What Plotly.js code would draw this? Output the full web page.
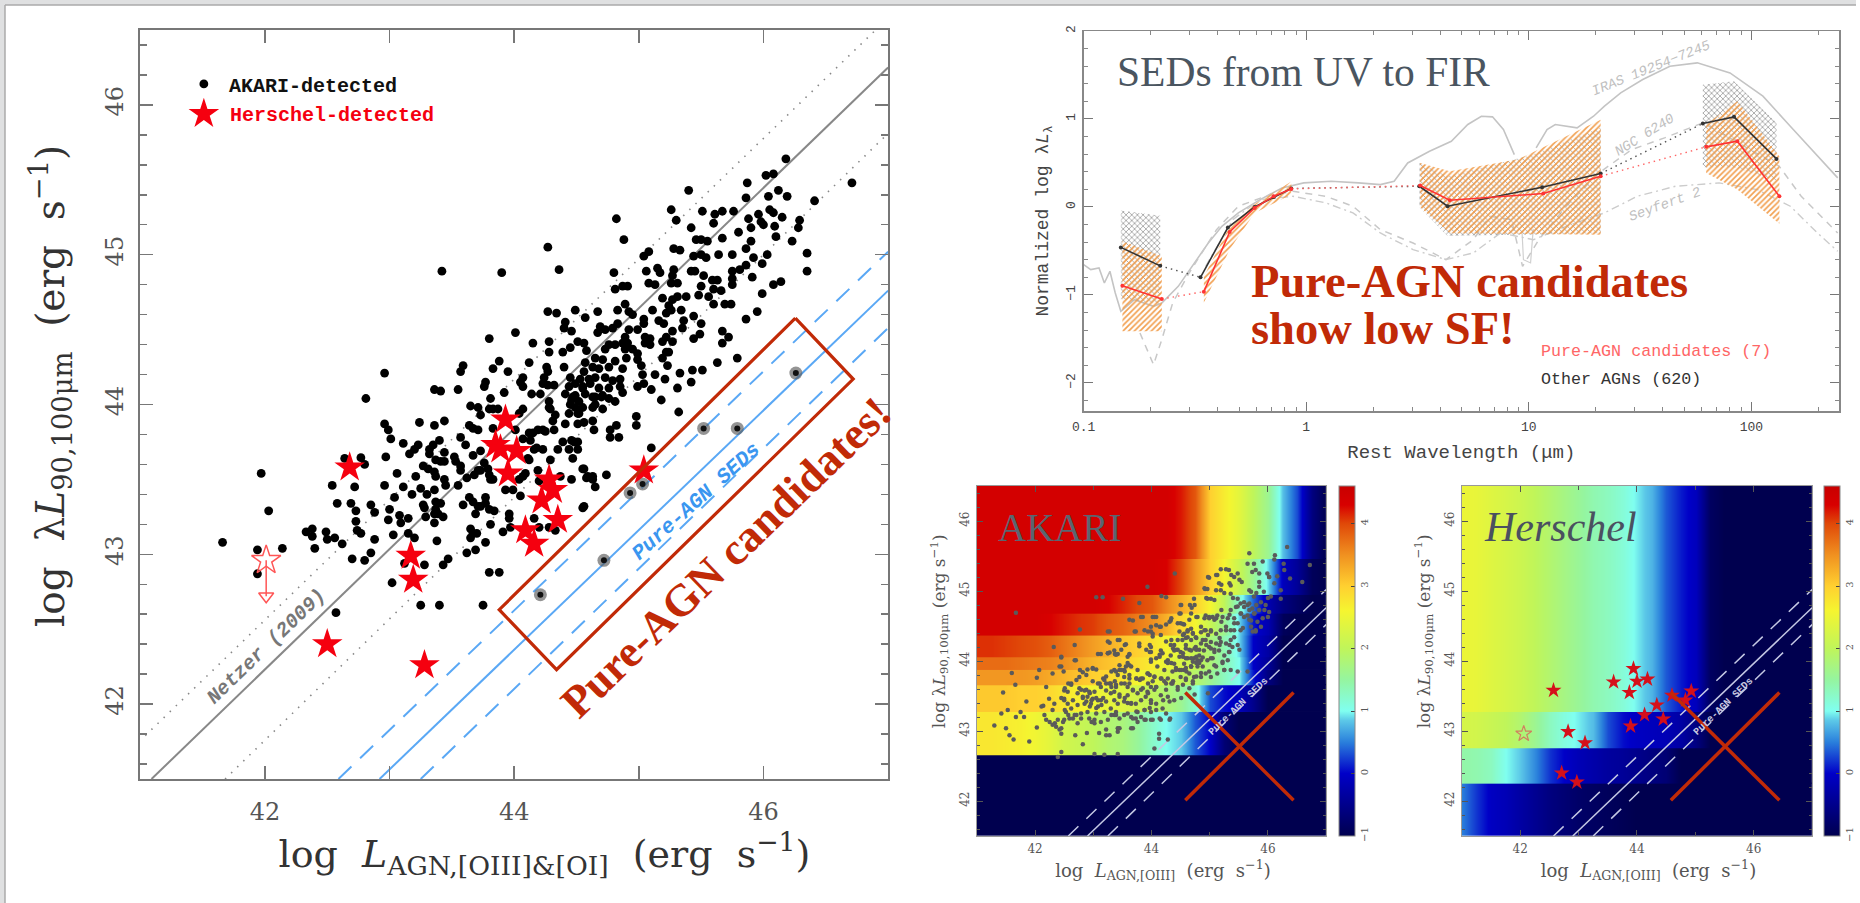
<!DOCTYPE html>
<html><head><meta charset="utf-8">
<script src="https://cdn.plot.ly/plotly-3.0.1.min.js"></script>
<style>html,body{margin:0;padding:0;background:#fff;overflow:hidden}</style>
</head><body><div id="chart" style="width:1860px;height:903px"></div>
<script>
// ---------- main panel: log L_AGN vs log lambda L ----------
const akariDetected = [
[46.18,45.64],[46.02,45.53],[46.08,45.54],[45.87,45.48],[45.40,45.43],[46.12,45.43],[45.86,45.38],[46.04,45.39],[46.19,45.39],[46.71,45.48],[46.41,45.36],
[45.26,45.30],[45.51,45.29],[45.61,45.27],[45.67,45.29],[45.76,45.29],[45.30,45.23],[45.60,45.21],[45.88,45.24],[45.96,45.27],[45.98,45.22],[46.0,45.20],
[46.05,45.30],[46.08,45.28],[46.15,45.25],[46.29,45.23],[46.28,45.18],[45.90,45.18],[46.09,45.19],[45.42,45.18],[44.82,45.24],[45.80,45.15],[45.67,45.11],
[45.90,45.09],[46.10,45.12],[46.23,45.09],[44.88,45.10],[45.46,45.10],[45.50,45.10],[45.55,45.09],[44.27,45.05],[45.08,45.02],[45.04,44.99],[45.28,45.04],
[45.33,45.03],[45.44,44.99],[45.50,45.0],[45.54,44.98],[45.64,45.0],[45.75,45.0],[45.86,45.04],[45.92,44.98],[46.03,45.0],[45.99,44.94],[46.35,45.01],[46.35,44.89],
[43.42,44.89],[43.90,44.88],[44.36,44.90],[44.80,44.88],[45.06,44.89],[45.15,44.91],[45.17,44.88],[45.28,44.90],[45.27,44.86],[45.42,44.89],[45.45,44.89],
[45.52,44.86],[45.59,44.83],[45.63,44.83],[45.75,44.89],[45.81,44.90],[45.75,44.84],[45.75,44.80],[45.86,44.93],[45.91,44.85],[46.08,44.80],[46.14,44.82],[45.99,44.74],
[45.08,44.81],[45.13,44.80],[45.26,44.81],[45.31,44.81],[44.81,44.77],[44.87,44.79],[44.91,44.79],[45.50,44.79],[45.48,44.73],[45.60,44.77],[45.66,44.76],[45.19,44.71],
[45.27,44.70],[45.31,44.72],[45.38,44.72],[45.24,44.66],[45.56,44.72],[45.60,44.67],[45.69,44.67],[45.74,44.67],[45.86,44.57],[45.95,44.62],[44.27,44.62],[44.34,44.61],
[44.49,44.63],[44.57,44.58],[44.67,44.62],[44.83,44.63],[44.89,44.67],[44.92,44.62],[44.95,44.60],[45.11,44.63],[45.22,44.61],[45.26,44.63],[45.34,44.63],[45.44,44.59],
[45.04,44.57],[45.04,44.54],[45.16,44.56],[45.20,44.54],[45.36,44.56],[45.35,44.51],[45.50,44.54],[44.41,44.55],[44.40,44.51],[44.46,44.49],[44.69,44.52],[44.73,44.50],
[44.79,44.51],[44.83,44.54],[44.92,44.50],[44.99,44.50],[45.27,44.49],[45.22,44.45],[45.19,44.42],[44.01,44.48],[43.80,44.44],[44.15,44.41],[44.28,44.42],[44.28,44.35],
[44.51,44.42],[44.56,44.41],[44.58,44.36],[44.67,44.48],[44.89,44.45],[44.87,44.41],[44.91,44.41],[44.81,44.40],[44.76,44.40],[44.89,44.37],[44.95,44.37],[45.05,44.45],
[45.09,44.44],[45.05,44.41],[45.09,44.40],[45.44,44.44],[45.49,44.47],[45.67,44.49],[45.72,44.45],[45.67,44.41],[45.27,44.42],[45.22,44.35],[45.24,44.35],[45.79,44.31],
[45.63,44.28],[44.45,44.38],[44.39,44.35],[44.73,44.37],[44.99,44.34],[44.99,44.30],[45.02,44.26],[45.19,44.31],[43.88,44.29],[44.12,44.28],[43.83,44.24],[43.95,44.22],
[43.59,44.26],[43.57,44.22],[44.26,44.25],[44.27,44.22],[44.40,44.25],[44.57,44.28],[44.65,44.31],[44.71,44.30],[44.63,44.25],[44.56,44.22],[44.68,44.24],[44.76,44.25],
[44.81,44.29],[44.90,44.31],[44.87,44.24],[45.23,44.26],[45.43,44.23],[45.51,44.23],[45.33,44.21],[45.13,44.20],[45.03,44.20],[44.53,44.17],[44.60,44.17],[44.65,44.18],
[44.73,44.18],[44.79,44.16],[44.85,44.17],[44.45,44.18],[44.49,44.14],[44.44,44.12],[44.55,44.12],[44.61,44.14],[44.68,44.11],[44.76,44.11],[44.85,44.12],[44.87,44.08],
[44.24,44.18],[44.23,44.14],[44.27,44.13],[44.32,44.13],[44.07,44.18],[44.07,44.12],[44.05,44.15],[43.77,44.15],[43.76,44.12],[45.21,44.17],[45.42,44.15],[44.99,44.12],
[45.04,44.14],[45.10,44.10],[45.31,44.11],[43.36,44.10],[43.41,44.09],[43.55,44.10],[43.92,44.08],[44.14,44.07],[44.21,44.07],[45.18,44.03],[44.81,44.02],[44.57,44.07],
[44.65,44.05],[44.71,44.06],[44.76,44.04],[44.41,44.07],[44.49,44.06],[44.52,44.02],[44.45,44.0],[44.55,43.98],[43.81,44.04],[44.28,44.02],[44.28,43.98],[43.65,43.99],
[43.71,43.98],[42.96,44.21],[44.07,43.97],[44.65,44.0],[44.71,43.97],[43.83,43.97],[43.87,43.97],[42.81,44.04],[43.73,43.93],[44.04,43.94],[44.29,43.97],[44.33,43.93],
[44.31,43.89],[44.47,44.05],[44.49,43.98],[44.44,43.94],[44.52,43.94],[44.56,43.88],[44.64,43.83],[44.39,43.75],[44.48,43.75],[44.63,43.89],[44.12,43.81],[44.19,43.83],
[44.25,43.82],[44.07,43.77],[44.16,43.70],[44.23,43.70],[44.35,43.70],[44.44,43.70],[44.51,43.70],[44.29,43.63],[44.47,43.64],[44.11,43.64],[44.12,43.63],[44.56,43.57],
[44.59,43.52],[44.63,43.52],[44.65,43.45],[44.56,43.32],[44.46,43.50],[44.37,43.52],[44.19,43.56],[44.20,43.49],[44.07,43.52],[44.04,43.50],[43.93,43.43],[43.99,43.43],
[44.05,43.39],[44.16,43.24],[44.20,43.18],[44.28,43.18],[44.33,43.16],[44.09,43.54],[43.81,43.50],[43.83,43.84],[44.01,43.83],[43.80,43.97],[43.73,43.69],[43.67,43.66],
[43.79,43.57],[43.80,43.53],[43.83,43.50],[43.73,43.56],[43.76,43.61],[43.71,43.56],[43.62,43.51],[43.68,43.53],[43.64,43.86],[43.67,43.84],[43.71,43.83],[43.57,43.78],
[43.61,43.73],[43.52,43.65],[43.53,43.62],[43.57,43.59],[43.57,43.56],[43.44,43.68],[43.44,43.62],[43.36,43.86],[43.24,43.88],[43.44,43.89],[42.96,43.87],[42.99,43.83],
[43.01,43.77],[43.11,43.74],[43.23,43.73],[43.20,43.70],[43.16,43.67],[43.32,43.70],[43.35,43.73],[43.40,43.76],[43.32,43.67],[43.37,43.63],[43.27,43.59],[43.31,43.57],
[43.36,43.55],[43.37,43.52],[43.41,43.62],[41.66,43.08],[41.97,43.54],[42.03,43.29],[41.94,43.03],[41.94,42.87],[42.14,43.04],[42.33,43.15],[42.38,43.17],[42.38,43.12],
[42.40,43.04],[42.49,43.15],[42.50,43.10],[42.56,43.11],[42.62,43.07],[42.54,43.46],[42.58,43.34],[42.69,43.34],[42.73,43.29],[42.73,43.22],[42.74,43.16],[42.77,43.14],
[42.72,43.45],[42.64,43.64],[42.77,43.645],[42.80,43.60],[42.97,43.65],[42.96,43.46],[43.06,43.54],[43.11,43.45],[43.18,43.40],[43.04,43.38],[43.21,43.52],[43.25,43.44],
[43.30,43.40],[43.36,43.43],[43.27,43.33],[43.28,43.31],[42.85,43.33],[42.88,43.28],[43.00,43.30],[43.08,43.26],[43.15,43.24],[42.99,43.23],[43.09,43.21],[43.29,43.25],
[43.36,43.21],[43.37,43.35],[43.41,43.34],[43.37,43.30],[43.39,43.27],[43.36,43.27],[43.43,43.25],[42.88,43.10],[42.85,43.01],[42.80,42.96],[42.70,42.97],[43.03,43.13],
[43.15,43.14],[43.20,43.11],[43.38,43.09],[43.28,42.93],[43.12,42.94],[43.02,42.81],[43.43,42.93],[43.47,42.97],[43.62,43.01],[43.69,43.03],[43.77,43.08],[43.80,42.88],
[43.88,42.88],[43.25,42.66],[43.40,42.66],[43.75,42.66],[42.57,42.61],[43.91,43.15],[43.97,43.18],[43.65,43.17],[43.67,43.14],[43.70,43.14],[43.65,43.11],[43.81,43.20],
[43.96,43.27],[43.96,43.24],[43.69,43.27],[43.59,43.33],[43.64,43.38],[43.67,43.35],[43.71,43.32],[43.73,43.32],[43.77,43.38],[43.77,43.34],[43.80,43.30],[43.84,43.29],
[43.55,43.46],[43.44,43.50],[43.45,43.46],[45.32,43.95],[45.10,43.71],[44.74,43.53],[44.55,43.57],[44.58,43.51],[44.63,43.50],[44.55,43.31],[44.98,43.92],[44.98,43.86],
[44.77,43.83],[44.82,43.86],[44.77,43.78],[44.84,43.78],[44.46,43.76],[44.51,43.75],[44.32,43.83],[44.41,43.87],[44.51,43.87],[44.15,43.81],[44.23,43.83],[44.13,43.76],
[44.18,43.71],[44.63,43.98],[44.70,44.05],[44.63,44.05],[44.51,43.94],[44.46,44.03],[44.55,44.11]];
const pureAgn = [[46.26,44.21],[45.52,43.84],[45.79,43.84],[44.93,43.41],[45.03,43.47],[44.72,42.96],[44.21,42.73]];
const herschelDetected = [[42.68,43.58],[43.93,43.90],[43.85,43.73],[43.89,43.70],[44.02,43.69],[43.95,43.54],[44.28,43.50],[44.31,43.43],[44.22,43.36],[44.35,43.23],
[44.09,43.16],[44.16,43.07],[43.17,42.99],[43.19,42.83],[42.50,42.40],[43.28,42.26],[45.04,43.56]];
const upperLimitStar = [[42.01,42.96]];
const upperLimitArrow = [[42.01,42.96],[42.01,42.72]];
const legendDot = [[41.51,46.14]];
const legendStar = [[41.51,45.94]];
const netzerLine = [[41.09,41.5],[47,46.25]];
const netzerUpper = [[41.04,41.79],[46.9,46.5]];
const netzerLower = [[41.68,41.5],[47,45.81]];
const pureLine = [[42.92,41.5],[47,44.76]];
const pureUpper = [[42.59,41.5],[47,45.02]];
const pureLower = [[43.25,41.5],[47,44.51]];
const candidateBox = [[46.256,44.576],[46.72,44.17],[44.34,42.23],[43.88,42.63],[46.256,44.576]];
const xMainTicks = [41,42,43,44,45,46,47];
const xMainLabels = ['','42','','44','','46',''];
const yMainTicks = [42,43,44,45,46];

// ---------- SED panel: [log10 wavelength(um), normalized log L] ----------
const sedIrasUvMir = [[-1,-.656],[-.968,-.713],[-.931,-.694],[-.907,-.865],[-.882,-.732],[-.858,-.978],[-.833,-1.187],[-.772,-1.054],[-.686,-1.13],[-.649,-1.092],[-.575,-.903],[-.502,-.637],[-.44,-.41],[-.379,-.22],[-.305,-.068],[-.207,.083],[-.109,.216],[-.011,.273],[.112,.292],[.235,.273],[.333,.254],[.395,.292],[.456,.5],[.554,.633],[.652,.747],[.726,.937],[.787,1.031],[.837,1.024],[.886,.88],[.935,.595]];
const sedIrasDip = [[.97,-.3],[.976,-.6],[1.008,-.637],[1.02,-.25]];
const sedIrasFir = [[1.033,.671],[1.082,.88],[1.119,.937],[1.217,.899],[1.291,1.031],[1.34,1.145],[1.413,1.297],[1.512,1.449],[1.634,1.6],[1.757,1.638],[1.904,1.524],[2.052,1.259],[2.175,.918],[2.297,.576],[2.388,.33]];
const sedNgc = [[-.747,-1.433],[-.686,-1.794],[-.649,-1.509],[-.6,-1.092],[-.526,-.751],[-.403,-.258],[-.305,.008],[-.182,.121],[-.06,.178],[.088,.121],[.21,.008],[.333,-.258],[.48,-.41],[.628,-.599],[.751,-.372],[.824,-.106],[.922,-.144],[.972,-.675],[1.045,-.372],[1.168,.008],[1.315,.387],[1.463,.652],[1.61,.785],[1.782,.956],[1.929,.747],[2.125,.463],[2.224,.121],[2.388,-.296]];
const sedSeyfert = [[-.452,-.675],[-.33,-.144],[-.207,.083],[-.06,.121],[.088,.046],[.21,-.068],[.333,-.296],[.48,-.485],[.628,-.599],[.751,-.523],[.873,-.296],[1.021,-.372],[1.168,-.22],[1.34,-.068],[1.487,.121],[1.659,.235],[1.855,.273],[2.027,.197],[2.175,.008],[2.297,-.296],[2.388,-.504]];
const otherUv = [[-.833,-.46],[-.656,-.67]];
const otherOpt = [[-.475,-.80],[-.352,-.235],[-.232,0],[-.146,.114],[-.067,.21]];
const otherMir = [[.508,.235],[.635,.0075],[1.06,.224],[1.323,.38]];
const otherFir = [[1.782,.948],[1.922,1.024],[2.113,.546]];
const pureUv = [[-.826,-.895],[-.649,-1.047]];
const pureOpt = [[-.46,-.963],[-.344,-.284],[-.232,-.011],[-.146,.121],[-.067,.205]];
const pureMir = [[.512,.243],[.645,.076],[1.065,.152],[1.323,.349]];
const pureFir = [[1.797,.683],[1.937,.747],[2.126,.121]];
const grayBandUv = [[-.833,-.04],[-.656,-.1],[-.656,-1.1],[-.833,-1.05],[-.833,-.04]];
const grayBandMir = [[.508,.5],[.635,.35],[1.0,.58],[1.323,.9],[1.323,-.3],[.635,-.33],[.508,.0],[.508,.5]];
const grayBandFir = [[1.782,1.39],[1.922,1.43],[2.113,.956],[2.113,.3],[1.922,.45],[1.782,.45],[1.782,1.39]];
const orangeBandUv = [[-.826,-.39],[-.649,-.56],[-.649,-1.414],[-.826,-1.414],[-.826,-.39]];
const orangeBandOpt = [[-.46,-.79],[-.344,-.22],[-.232,.03],[-.067,.29],[-.067,.14],[-.232,-.07],[-.344,-.485],[-.46,-1.09],[-.46,-.79]];
const orangeBandMir = [[.512,.50],[.645,.405],[.95,.54],[1.323,.99],[1.323,-.315],[.645,-.3],[.512,0],[.512,.50]];
const orangeBandFir = [[1.797,.937],[1.937,1.20],[2.126,.576],[2.126,-.19],[1.937,.197],[1.797,.387],[1.797,.937]];
const sedXTicks = [0.1,1,10,100];
const sedYTicks = [-2,-1,0,1,2];

// ---------- lower panels ----------
const lumNodes = [41,41.25,41.5,41.75,42,42.25,42.5,42.75,43,43.25,43.5,43.75,44,44.25,44.5,44.75,45,45.25,45.5,45.75,46,46.25,46.5,46.75,47];
// horizontal band edges and the colour value at each luminosity node, one row per band
const akariBandEdges = [41.5,42.65,43.27,43.66,43.87,44.06,44.37,44.68,44.95,45.46,46.5];
const akariBands = [
[-1,-1,-1,-1,-1,-1,-1,-1,-1,-1,-1,-1,-1,-1,-1,-1,-1,-1,-1,-1,-1,-1,-1,-1,-1],
[2.75,2.75,2.7,2.65,2.55,2.4,2.2,2.1,2.0,1.85,1.75,1.55,1.25,1.0,.85,.35,0,-.7,-1,-1,-1,-1,-1,-1,-1],
[3.05,3.05,3.05,3.0,3.0,2.9,2.75,2.65,2.55,2.45,2.35,2.2,2.0,1.85,1.6,1.2,.3,.05,-.1,-.5,-1,-1,-1,-1,-1],
[3.45,3.45,3.45,3.45,3.4,3.3,3.2,3.1,3.0,2.9,2.75,2.6,2.45,2.25,2.05,1.9,1.6,1.3,1.0,.1,-.6,-1,-1,-1,-1],
[3.75,3.75,3.75,3.7,3.65,3.6,3.5,3.35,3.2,3.1,3.0,2.85,2.7,2.5,2.3,2.1,1.8,1.4,1.0,0,-.4,-1,-1,-1,-1],
[4.1,4.1,4.05,4.0,3.95,3.85,3.7,3.55,3.4,3.25,3.1,3.0,2.8,2.6,2.4,2.1,1.8,1.4,.9,0,-.3,-1,-1,-1,-1],
[4.4,4.4,4.4,4.4,4.4,4.3,4.2,4.1,4.05,3.9,3.8,3.65,3.5,3.25,2.9,2.6,2.1,1.6,.9,.1,-.2,-.9,-1,-1,-1],
[4.4,4.4,4.4,4.4,4.4,4.4,4.4,4.4,4.4,4.3,4.15,4.0,3.9,3.6,3.3,3.0,2.6,2.0,1.2,.4,-.2,-.6,-.8,-1,-1],
[4.4,4.4,4.4,4.4,4.4,4.4,4.4,4.4,4.4,4.4,4.4,4.4,4.4,4.3,4.0,3.5,3.0,2.6,2.1,1.6,.9,-.1,-.4,-.9,-1],
[4.4,4.4,4.4,4.4,4.4,4.4,4.4,4.4,4.4,4.4,4.4,4.4,4.4,4.4,4.2,3.9,3.0,2.7,2.4,2.0,1.6,.8,.3,-.6,-1]];
const herschelBandEdges = [41.5,42.25,42.75,43.27,46.5];
const herschelBands = [
[.5,.2,-.05,-.15,-.3,-.45,-.6,-.7,-.8,-.85,-.9,-.95,-1,-1,-1,-1,-1,-1,-1,-1,-1,-1,-1,-1,-1],
[1.45,1.4,1.3,1.0,.85,.55,.2,0,-.15,-.25,-.35,-.4,-.5,-.6,-.7,-1,-1,-1,-1,-1,-1,-1,-1,-1,-1],
[2.25,2.2,2.1,2.0,1.85,1.6,1.3,1.1,.95,.8,.3,.05,-.05,-.1,-.15,-.3,-.6,-1,-1,-1,-1,-1,-1,-1,-1],
[2.5,2.45,2.35,2.25,2.15,2.0,1.85,1.7,1.55,1.4,1.3,1.15,.95,.75,.35,.1,-.1,-.85,-1,-1,-1,-1,-1,-1,-1]];
const colorTickVals = [-1,0,1,2,3,4];
const akariPoints = [
[46.33,45.63],[45.68,45.54],[46.12,45.51],[46.11,45.45],[46.27,45.39],[46.72,45.37],[45.91,45.42],[45.76,45.39],[45.65,45.39],[45.79,45.30],[45.85,45.25],[45.73,45.27],
[45.99,45.25],[46.02,45.2],[46.16,45.21],[46.28,45.30],[46.38,45.18],[46.59,45.13],[45.19,45.31],[45.28,45.31],[45.33,45.30],[45.13,45.23],[45.42,45.2],[45.48,45.25],
[44.99,45.19],[45.16,45.11],[45.36,45.08],[45.55,45.13],[44.40,45.25],[41.67,44.69],[43.93,45.06],[44.17,44.93],[44.25,44.91],[43.05,44.91],[43.16,44.91],[43.51,44.89],
[43.79,44.83],[44.73,44.89],[44.96,44.89],[45.02,44.89],[44.92,45.03],[44.96,45.03],[45.19,45.01],[45.36,44.96],[45.48,44.89],[45.59,44.84],[45.65,44.80],[45.73,44.75],
[41.30,43.08],[41.42,43.25],[41.45,43.55],[41.53,43.30],[41.50,43.04],[41.56,42.94],[41.63,42.88],[41.60,43.83],[41.66,43.66],[41.67,43.20],[41.75,43.27],[41.81,43.20],
[41.85,43.42],[41.90,42.85],[42.03,43.76],[42.07,43.87],[42.03,43.05],[42.11,43.35],[42.14,43.36],[42.19,43.63],[42.16,43.23],[42.19,43.16],[42.25,43.13],[42.30,43.09],
[42.36,43.06],[42.32,44.20],[42.30,43.82],[42.45,43.92],[42.49,43.85],[42.45,44.05],[42.68,44.23],[42.77,44.45],[42.70,44.01],[42.24,43.46],[42.33,43.39],[42.30,43.30],
[42.45,43.04],[42.45,42.96],[42.45,42.70],[42.39,42.63],[42.69,42.94],[42.82,42.81],[42.89,42.97],[43.02,42.67],[43.10,42.97],[43.19,42.66],[43.22,42.94],[43.28,42.94],
[43.42,42.99],[43.45,43.04],[43.42,42.67],[43.68,43.04],[43.73,43.18],[43.76,43.13],[44.05,42.75],[44.13,42.96],[44.13,42.89],[44.28,42.88],[44.02,43.16],[43.90,43.16],
[44.16,43.16],[44.32,43.18],[42.50,43.46],[42.56,43.56],[42.62,43.68],[42.50,43.58],[42.76,43.77],[42.82,43.84],[42.90,43.88],[42.99,43.89],[43.05,43.88],[43.13,44.10],
[43.28,44.12],[43.42,44.10],[43.28,44.42],[43.28,44.26],[43.45,44.30],[43.36,44.15],[43.56,44.24],[43.59,44.06],[43.68,44.58],[43.85,44.63],[43.73,44.42],[43.88,44.44],
[44.05,44.63],[44.08,44.63],[43.99,44.49],[44.08,44.51],[44.16,44.49],[44.02,44.39],[44.16,44.37],[43.79,44.25],[43.99,44.20],[44.16,44.15],[44.33,44.58],[44.50,44.80],
[44.66,44.80],[44.69,44.76],[44.50,44.68],[44.50,44.54],[44.56,44.52],[44.68,44.68],[44.79,44.63],[44.93,44.65],[44.99,44.63],[45.05,44.63],
[42.50,43.44],[42.56,43.39],[42.65,43.44],[42.73,43.54],[42.76,43.61],[42.85,43.58],[42.93,43.56],[43.02,43.56],[42.82,43.49],[42.90,43.49],[42.99,43.46],[43.08,43.44],
[42.85,43.39],[42.96,43.39],[43.08,43.35],[42.73,43.37],[42.62,43.32],[42.53,43.27],[42.68,43.23],[42.79,43.25],[42.90,43.27],[43.05,43.25],[43.19,43.27],[43.30,43.32],
[43.39,43.27],[43.53,43.23],[43.65,43.20],[43.76,43.27],[43.88,43.30],[43.99,43.27],[44.08,43.39],[44.19,43.32],[44.39,43.44],[44.28,43.49],[44.16,43.51],[43.99,43.44],
[43.90,43.49],[43.82,43.44],[43.73,43.39],[43.65,43.39],[43.53,43.42],[43.45,43.49],[43.36,43.44],[43.30,43.54],[43.22,43.58],[43.13,43.63],[43.08,43.68],[43.19,43.73],
[43.30,43.68],[43.39,43.63],[43.48,43.68],[43.59,43.63],[43.68,43.58],[43.53,43.77],[43.62,43.75],[43.45,43.87],[43.53,43.87],[43.65,43.92],[43.76,43.87],[43.85,43.75],
[43.93,43.82],[44.05,43.77],[44.16,43.75],[44.25,43.68],[44.36,43.68],[44.45,43.63],[43.99,43.63],[44.08,43.63],[43.93,43.56],[44.22,43.87],[43.99,43.99],[44.10,43.92],
[44.19,44.11],[44.28,44.01],[44.39,43.96],[44.48,43.87],[44.56,43.96],[44.68,43.92],[44.79,44.01],[44.88,43.92],[44.99,43.85],[45.11,43.92],[45.25,43.87],[45.48,43.85],
[45.65,43.85],[42.50,43.16],[42.59,43.18],[42.73,43.11],[42.79,43.18],[42.93,43.18],[43.02,43.16],[43.13,43.13],[43.25,43.16],[43.36,43.23],[43.45,43.18],[43.59,43.25],
[43.82,43.20],[43.42,43.39],[43.22,43.42],[43.13,43.44],[43.36,43.56],[43.59,43.51],[43.76,43.54],[43.85,43.61],
[44.62,44.44],[44.68,44.46],[44.56,44.39],[44.71,44.39],[44.62,44.34],[44.53,44.30],[44.68,44.30],[44.76,44.34],[44.85,44.41],[44.93,44.44],[45.02,44.44],[45.11,44.39],
[45.19,44.44],[45.28,44.49],[45.36,44.44],[45.42,44.54],[45.31,44.61],[45.22,44.63],[45.13,44.65],[45.36,44.73],[45.45,44.77],[45.53,44.82],[45.59,44.77],[45.68,44.73],
[45.65,44.65],[45.59,44.63],[45.53,44.68],[45.42,44.61],[45.76,44.68],[45.85,44.73],[45.48,44.54],[45.53,44.44],[45.36,44.30],[45.28,44.25],[45.19,44.27],[45.11,44.25],
[45.02,44.27],[44.93,44.30],[44.85,44.25],[44.76,44.20],[44.68,44.15],[44.59,44.18],[44.50,44.13],[44.62,44.04],[44.73,44.04],[44.82,44.08],[44.90,44.15],[44.99,44.20],
[45.08,44.13],[45.16,44.15],[45.25,44.08],[45.33,44.13],[45.39,44.20],[45.48,44.23],[45.42,44.34],[44.79,43.92],[44.68,43.92],[44.56,43.87],[44.65,43.82],[44.73,43.77],
[44.85,43.77],[44.93,43.82],[45.02,43.77],[45.13,43.82],[45.22,43.99],[45.31,44.01],[45.36,43.87],[44.96,44.01],[45.05,44.04],[44.85,44.01],[44.33,44.23],[44.39,44.15],
[44.33,44.08],[44.48,44.06],[44.36,43.85],[44.50,43.77],[44.59,43.73],[45.79,44.44],[45.88,44.49],[45.71,44.49],[45.71,44.58],[45.79,44.42],[45.91,44.61],[46.02,44.70],
[45.96,44.80],[45.88,44.84],[45.76,44.92],[45.71,44.99],[45.85,45.06],[45.85,45.13],[45.93,44.99],[46.05,44.92],[46.22,44.89],[46.22,45.01],[46.11,45.11],[46.02,45.20],
[44.48,44.42],[44.54,44.37],[44.59,44.33],[44.62,44.42],[44.71,44.40],[44.59,44.23],[44.65,44.16],[44.74,44.18],[44.77,44.33],[44.85,44.49],[44.91,44.44],[44.97,44.37],
[45.02,44.42],[44.88,44.30],[44.94,44.23],[45.02,44.18],[45.08,44.16],[44.77,44.06],[44.68,44.04],[44.59,44.04],[44.54,44.11],[44.45,44.16],[44.37,44.18],[44.39,44.23],
[44.45,44.30],[44.34,44.30],[44.82,44.16],[44.88,44.05],[45.02,44.04],[44.68,43.92],[44.77,43.97],[44.59,43.90],[44.51,43.87],[44.42,43.87],[44.34,43.97],[44.25,43.99],
[44.14,44.06],[44.08,44.04],[43.99,44.02],[43.97,44.13],[44.25,44.28],[43.91,44.16],[43.79,44.21],[43.62,44.09],[43.54,44.23],[43.42,44.30],[43.25,44.28],[43.25,44.11],
[43.39,44.09],[43.48,44.16],[44.59,43.75],[44.77,43.78],[44.85,43.83],[44.71,43.68],[44.54,43.66],[44.37,43.71],[44.28,43.75],[44.17,43.75],[44.05,43.78],[43.97,43.80],
[43.62,43.68],[43.74,43.75],[43.36,43.87],[43.48,43.87],[43.56,43.92],[43.62,43.94],[43.22,43.78],[43.28,43.68],[43.39,43.66],[43.54,43.68],[43.82,43.75],[43.68,43.59],
[43.82,43.59],[43.94,43.68],[44.05,43.59],[44.25,43.59],[44.45,43.59],[44.65,43.61],[44.91,44.61],[44.99,44.61],[45.08,44.59],[45.20,44.56],[45.28,44.44],[45.42,44.44],
[45.17,44.33],[45.17,44.23],[45.34,44.23],[45.34,44.13],[45.11,44.61],[45.20,44.73],[45.34,44.66],[45.48,44.78],[45.54,44.68],[45.68,44.82],[45.80,44.80],[45.40,44.90],
[45.25,44.97],[45.11,45.01],[45.20,45.09],[45.34,45.11],[45.51,45.16],[45.68,45.01],[45.80,44.97],[46.0,44.90],[45.94,44.73],[45.77,44.68],[45.68,44.59],[45.82,44.56],
[46.0,44.63],[45.74,44.42],[45.57,44.47],[45.51,44.16],[45.22,43.97],[45.25,43.87],[45.08,43.94],[44.65,44.59],[44.77,44.63],[44.48,44.68],[44.51,44.80],[44.74,44.80],
[44.94,44.90],[45.08,44.87],[44.45,44.54],[44.54,44.53],[44.31,44.56],[44.34,44.61],[43.99,44.42],[43.94,44.42],[44.14,44.49],[44.02,44.63],[43.82,44.63],[43.62,44.59],
[43.71,44.42],[43.25,44.42],[44.02,44.35],[43.97,44.23],[44.25,44.52],[44.91,45.04],[45.11,45.23],[45.37,45.23],[44.97,45.20],
[42.34,43.11],[42.39,43.16],[42.48,43.13],[42.42,43.02],[42.65,43.18],[42.71,43.23],[42.51,43.30],[42.57,43.23],[42.45,43.47],[42.51,43.61],[42.57,43.68],[42.62,43.66],
[42.71,43.73],[42.79,43.59],[42.88,43.59],[42.94,43.54],[42.82,43.47],[42.88,43.42],[42.97,43.44],[43.05,43.47],[43.17,43.47],[42.94,43.35],[43.05,43.33],[43.14,43.37],
[42.99,43.71],[43.11,43.68],[43.17,43.75],[43.22,43.68],[43.31,43.63],[43.37,43.71],[43.42,43.80],[43.54,43.85],[43.62,43.80],[43.39,43.85],[43.31,43.85],[43.45,43.94],
[43.59,43.97],[43.74,43.75],[43.80,43.73],[44.02,43.71],[44.08,43.63],[44.22,43.71],[44.34,43.68],[44.28,43.97],[44.42,43.90],[44.60,43.85],[44.71,43.99],[44.82,43.97],
[44.71,43.71],[43.94,43.82],[43.94,43.54],[43.99,43.40],[43.88,43.30],[43.68,43.18],[43.74,43.28],[43.59,43.40],[43.45,43.52],[43.54,43.47],[43.65,43.40],[43.31,43.23],
[43.39,43.23],[42.97,43.13],[43.02,43.11],[43.22,43.02],[43.42,43.04],[43.65,43.04],[43.88,43.16],[43.99,43.16],[44.14,43.18],[44.31,43.16],[44.25,43.25],[44.20,43.44],
[44.31,43.42],[44.51,43.47],[44.74,43.52],[44.97,43.54],[44.08,43.30],[43.97,43.33],[42.88,43.80],[42.99,43.90],[42.77,43.87],[42.42,43.92],[42.45,44.06],[42.68,44.01],
[43.08,44.10],[43.25,44.11],[43.37,44.10],[43.62,44.10],[43.99,44.13],[44.14,44.09],[44.42,44.16],[44.54,44.06],[44.77,44.16]];
const herschelPoints = [[42.57,43.58],[43.94,43.89],[43.60,43.70],[44.0,43.71],[44.18,43.74],[43.87,43.55],[44.6,43.51],[44.93,43.57],[44.83,43.44],[44.34,43.37],
[44.13,43.23],[44.45,43.17],[43.89,43.07],[42.82,42.99],[43.11,42.83],[42.71,42.40],[42.97,42.27]];
const herschelOpen = [[42.06,42.96]];
const lowerPure = [[42.9,41.5],[47,44.76]];
const lowerUpper = [[42.57,41.5],[47,45.02]];
const lowerLower = [[43.25,41.5],[47,44.52]];
const crossA = [[44.58,43.55],[46.44,42.01]];
const crossB = [[44.58,42.01],[46.44,43.55]];
const lowerXTicks = [42,44,46];

// ---------- colours / helpers ----------
const W = 1860, H = 903;
const RED = '#c12a07';
const NB = n => '\u00A0'.repeat(n), NB2 = NB(2);
const LEAD = n => '\u200B' + NB(n);   // leading padding that survives string trimming, to offset a centred title
const px = v => v / W, py = v => 1 - v / H;
const xs = a => a.map(p => p[0]), ys = a => a.map(p => p[1]);
const lin = a => a.map(p => Math.pow(10, p[0]));
const jet = [[0,'#00004f'],[.0893,'#00008c'],[.1786,'#0000c8'],[.2679,'#2a7fdc'],[.33,'#5cc8e8'],[.357,'#80fff0'],[.446,'#95f5a0'],[.536,'#c0f55a'],[.643,'#f5f530'],[.714,'#ffd030'],[.804,'#f09020'],[.893,'#e04808'],[.946,'#d80000'],[1,'#c80000']];

function line(pts, ax, color, width, dash, lg) {
  return {type:'scatter', mode:'lines', x: lg ? lin(pts) : xs(pts), y: ys(pts), xaxis:'x'+ax, yaxis:'y'+ax,
          line:{color, width, dash: dash || 'solid'}, hoverinfo:'skip', showlegend:false};
}
function dots(pts, ax, color, size, symbol, extra) {
  return {type:'scatter', mode:'markers', x: xs(pts), y: ys(pts), xaxis:'x'+ax, yaxis:'y'+ax,
          marker:Object.assign({color, size, symbol: symbol || 'circle', line:{width:0}}, extra||{}), hoverinfo:'skip', showlegend:false};
}
function band(pts, shape, fg, size, sol) {
  return {type:'scatter', mode:'lines', x: lin(pts), y: ys(pts), xaxis:'x2', yaxis:'y2', fill:'toself', fillcolor:'rgba(0,0,0,0)',
          line:{width:0}, fillpattern:{shape, fgcolor:fg, bgcolor:'rgba(0,0,0,0)', size, solidity:sol}, hoverinfo:'skip', showlegend:false};
}
function sedPts(pts, color) {
  return {type:'scatter', mode:'lines+markers', x: lin(pts), y: ys(pts), xaxis:'x2', yaxis:'y2', line:{color, width:1.6},
          marker:{color, size:4}, hoverinfo:'skip', showlegend:false};
}
// one two-row heatmap per horizontal band, so the band edges stay sharp while colours run smoothly along x
function heatBands(edges, rows, barX, ax) {
  return rows.map((row, i) => {
    const b = edges[i], t = edges[i+1] + (i < rows.length-1 ? 0.012 : 0), d = (t-b)/4;
    const tr = {type:'heatmap', x: lumNodes, y:[b+d, t-d], z:[row,row], xaxis:'x'+ax, yaxis:'y'+ax, zmin:-1, zmax:4.6, zsmooth:'best', colorscale:jet, hoverinfo:'skip', showscale:i===0};
    if (i === 0) tr.colorbar = {x:px(barX), xanchor:'left', y:py(661), yanchor:'middle', len:350/H, lenmode:'fraction', thickness:15.5, xpad:0, ypad:0,
      outlinecolor:'#888', outlinewidth:1, tickmode:'array', tickvals:colorTickVals, ticktext:colorTickVals.map(v => v < 0 ? '\u22121' : String(v)),
      ticks:'inside', ticklen:4, tickcolor:'#444', tickangle:-90, tickfont:{family:'DejaVu Serif', size:10, color:'#555'}};
    return tr;
  });
}

// ---------- traces ----------
const dotted = '1.5px,7px';
const data = [
  line(netzerUpper,'', '#888', 1.6, dotted), line(netzerLower,'', '#888', 1.6, dotted), line(netzerLine,'', '#888', 2),
  line(pureUpper,'', '#5aa8f5', 2, '18px,12px'), line(pureLower,'', '#5aa8f5', 2, '18px,12px'), line(pureLine,'', '#5aa8f5', 2),
  dots(akariDetected,'', '#000', 8.8),
  dots(pureAgn,'', 'rgba(90,90,90,.65)', 13),
  dots(pureAgn,'', '#111', 6),
  line(upperLimitArrow,'', '#f55', 1.5),
  dots([upperLimitArrow[1]],'', '#f55', 13, 'triangle-down-open', {line:{color:'#f55', width:1.5}}),
  dots(upperLimitStar,'', '#f55', 22, 'star-open', {line:{color:'#f55', width:1.5}}),
  dots(herschelDetected,'', '#f5000f', 23, 'star'),
  dots(legendDot,'', '#000', 8.8), dots(legendStar,'', '#f5000f', 23, 'star'),
  line(candidateBox,'', RED, 3.2),

  line(sedIrasUvMir,'2','#c4c4c4',1.6,'solid',true), line(sedIrasDip,'2','#d0d0d0',1.2,'solid',true), line(sedIrasFir,'2','#c4c4c4',1.6,'solid',true),
  line(sedNgc,'2','#c8c8c8',1.5,'7px,6px',true), line(sedSeyfert,'2','#cccccc',1.4,'8px,4px,2px,4px',true),
  band(grayBandUv,'x','#999',4,.35), band(grayBandMir,'x','#999',4,.35), band(grayBandFir,'x','#999',4,.35),
  band(orangeBandUv,'/','#f2a050',4,.42), band(orangeBandOpt,'/','#f2a050',4,.42), band(orangeBandMir,'/','#f2a050',4,.42), band(orangeBandFir,'/','#f2a050',4,.42),
  line([otherUv[1],otherOpt[0]],'2','#555',1.4,'1.5px,4px',true), line([otherOpt[4],otherMir[0]],'2','#555',1.4,'1.5px,4px',true), line([otherMir[3],otherFir[0]],'2','#555',1.4,'1.5px,4px',true),
  line([pureUv[1],pureOpt[0]],'2','#f66',1.4,'1.5px,4px',true), line([pureOpt[4],pureMir[0]],'2','#f66',1.4,'1.5px,4px',true), line([pureMir[3],pureFir[0]],'2','#f66',1.4,'1.5px,4px',true),
  sedPts(otherUv,'#333'), sedPts(otherOpt,'#333'), sedPts(otherMir,'#333'), sedPts(otherFir,'#333'),
  sedPts(pureUv,'#f33'), sedPts(pureOpt,'#f33'), sedPts(pureMir,'#f33'), sedPts(pureFir,'#f33'),

  ...heatBands(akariBandEdges, akariBands, 1341.7, '3'),
  line(lowerUpper,'3','#c4c8e4',1.5,'14px,11px'), line(lowerLower,'3','#c4c8e4',1.5,'14px,11px'), line(lowerPure,'3','#c4c8e4',1.5),
  dots(akariPoints,'3','#5a5a5a',4.5),
  line(crossA,'3',RED,3.5), line(crossB,'3',RED,3.5),

  ...heatBands(herschelBandEdges, herschelBands, 1827.7, '4'),
  line(lowerUpper,'4','#c4c8e4',1.5,'14px,11px'), line(lowerLower,'4','#c4c8e4',1.5,'14px,11px'), line(lowerPure,'4','#c4c8e4',1.5),
  dots(herschelOpen,'4','#d08060',12,'star-open',{line:{color:'#d08060',width:1.2}}),
  dots(herschelPoints,'4','#d5101a',12,'star'),
  line(crossA,'4',RED,3.5), line(crossB,'4',RED,3.5)
];

// ---------- axes ----------
function axis(dom, range, o) {
  return Object.assign({domain:dom, range, showline:true, linecolor:'#777', linewidth:2, mirror:'ticks', ticks:'inside', tickcolor:'#777', ticklen:13, tickwidth:1.5,
    showgrid:false, zeroline:false, fixedrange:true}, o);
}
const serif = 'DejaVu Serif', mono = 'Liberation Mono', times = 'Liberation Serif';
const lowerX = (dom, anchor) => axis(dom,[41,47],{anchor, tickmode:'array', tickvals:lowerXTicks, ticktext:lowerXTicks.map(String), linewidth:1, linecolor:'#999', ticklen:6, tickcolor:'#555', tickwidth:1,
    tickfont:{family:serif,size:12,color:'#555'}, ticklabelstandoff:2, minor:{ticks:'inside',dtick:1,ticklen:4,tickcolor:'#555'},
    title:{text:LEAD(4)+'log'+NB2+'<i>L</i><sub>AGN,[OIII]</sub>'+NB2+'(erg'+NB2+'s<sup>\u22121</sup>)', font:{family:serif,size:18,color:'#555'}, standoff:8}});
const lowerY = (dom, anchor) => axis([py(836),py(486)],[41.5,46.5],{anchor, tickmode:'array', tickvals:[42,43,44,45,46], linewidth:1, linecolor:'#999', ticklen:6, tickcolor:'#555', tickwidth:1,
    tickfont:{family:serif,size:12,color:'#555'}, tickangle:-90, ticklabelstandoff:2, minor:{ticks:'inside',dtick:.2,ticklen:3,tickcolor:'#555'},
    title:{text:LEAD(11)+'log \u03BB<i>L</i><sub>90,100\u03BCm</sub> (erg s<sup>\u22121</sup>)', font:{family:serif,size:17,color:'#555'}, standoff:8}});

const T = (text, x, y, size, color, family, o) => Object.assign({text, xref:'paper', yref:'paper', x:px(x), y:py(y), showarrow:false, xanchor:'center', yanchor:'middle',
  font:{size, color, family}}, o||{});

const layout = {
  width:W, height:H, margin:{l:0,r:0,t:0,b:0,pad:0}, paper_bgcolor:'#fff', plot_bgcolor:'#fff', showlegend:false,
  xaxis: axis([px(140.6),px(890)],[41,47],{anchor:'y', tickmode:'array', tickvals:xMainTicks, ticktext:xMainLabels,
    tickfont:{family:serif,size:24,color:'#555'}, ticklabelstandoff:10,
    title:{text:LEAD(5)+'log'+NB2+'<i>L</i><sub>AGN,[OIII]&[OI]</sub>'+NB2+'(erg'+NB2+'s<sup>\u22121</sup>)', font:{family:serif,size:38,color:'#333'}, standoff:7}}),
  yaxis: axis([py(779),py(30)],[41.5,46.5],{anchor:'x', tickmode:'array', tickvals:yMainTicks, tickangle:-90,
    tickfont:{family:serif,size:24,color:'#555'}, ticklabelstandoff:6, minor:{ticks:'inside',dtick:.2,ticklen:7,tickcolor:'#777'},
    title:{text:LEAD(3)+'log'+NB2+'\u03BB<i>L</i><sub>90,100\u03BCm</sub>'+NB2+'(erg'+NB2+'s<sup>\u22121</sup>)', font:{family:serif,size:39,color:'#333'}, standoff:24}}),
  xaxis2: axis([px(1086),px(1843)],[-1,2.394],{anchor:'y2', type:'log', tickmode:'array', tickvals:sedXTicks, ticktext:sedXTicks.map(String), linewidth:1.5, linecolor:'#888', ticklen:9, tickcolor:'#777', tickwidth:1,
    tickfont:{family:mono,size:13,color:'#444'}, ticklabelstandoff:3,
    minor:{ticks:'inside',dtick:'D1',ticklen:4,tickcolor:'#888'},
    title:{text:'Rest Wavelength (\u03BCm)', font:{family:mono,size:19,color:'#444'}, standoff:10}}),
  yaxis2: axis([py(411),py(31)],[-2.32,2.0],{anchor:'x2', tickmode:'array', tickvals:sedYTicks, ticktext:['\u22122','\u22121','0','1','2'], tickangle:-90, linewidth:1.5, linecolor:'#888', ticklen:9, tickcolor:'#777', tickwidth:1,
    tickfont:{family:mono,size:13,color:'#444'}, ticklabelstandoff:2, minor:{ticks:'inside',dtick:.2,ticklen:4,tickcolor:'#888'},
    title:{text:'Normalized log \u03BB<i>L</i><sub>\u03BB</sub>', font:{family:mono,size:18,color:'#444'}, standoff:10}}),
  xaxis3: lowerX([px(979),px(1329)],'y3'), yaxis3: lowerY(null,'x3'),
  xaxis4: lowerX([px(1465),px(1816)],'y4'), yaxis4: lowerY(null,'x4'),
  shapes:[
    {type:'rect', xref:'paper', yref:'paper', x0:0, x1:1, y0:py(5), y1:1, fillcolor:'#dfe0e1', line:{width:0}, layer:'below'},
    {type:'rect', xref:'paper', yref:'paper', x0:0, x1:px(5), y0:0, y1:1, fillcolor:'#dfe0e1', line:{width:0}, layer:'below'},
    {type:'line', xref:'paper', yref:'paper', x0:px(5), x1:1, y0:py(5), y1:py(5), line:{color:'#aaa', width:1.5}, layer:'below'},
    {type:'line', xref:'paper', yref:'paper', x0:px(5), x1:px(5), y0:py(5), y1:0, line:{color:'#aaa', width:1.5}, layer:'below'}
  ],
  annotations:[
    T('AKARI-detected',314,86,20,'#111',mono,{font:{size:20,color:'#111',family:mono,weight:'bold'}}),
    T('Herschel-detected',333,115,20,'#f00',mono,{font:{size:20,color:'#f5000f',family:mono,weight:'bold'}}),
    T('Netzer (2009)',267,646,20,'#777',mono,{textangle:-44,font:{size:20,color:'#777',family:mono,style:'italic',weight:'bold'}}),
    T('Pure-AGN SEDs',698,501,21,'#3a96f0',mono,{textangle:-42,font:{size:21,color:'#3a96f0',family:mono,style:'italic',weight:'bold'}}),
    T('Pure-AGN candidates!',728,557,45,RED,times,{textangle:-44,font:{size:45,color:RED,family:times,weight:'bold'}}),
    T('SEDs from UV to FIR',1306,72,41.5,'#4a5560',times),
    T('Pure-AGN candidates',1252,281,46.5,RED,times,{xanchor:'left',font:{size:46.5,color:RED,family:times,weight:'bold'}}),
    T('show low SF!',1252,328,46.5,RED,times,{xanchor:'left',font:{size:46.5,color:RED,family:times,weight:'bold'}}),
    T('Pure-AGN candidates (7)',1542,352,16.7,'#f66',mono,{xanchor:'left'}),
    T('Other AGNs (620)',1542,379,16.7,'#333',mono,{xanchor:'left'}),
    T('IRAS 19254\u22127245',1655,68,14,'#c0c0c0',mono,{textangle:-22,font:{size:14,color:'#c0c0c0',family:mono,style:'italic'}}),
    T('NGC 6240',1648,135,14,'#c0c0c0',mono,{textangle:-32,font:{size:14,color:'#c0c0c0',family:mono,style:'italic'}}),
    T('Seyfert 2',1669,204,14,'#c0c0c0',mono,{textangle:-20,font:{size:14,color:'#c0c0c0',family:mono,style:'italic'}}),
    T('AKARI',1062,527,39,'#5a6570',times),
    T('<i>Herschel</i>',1564,527,42,'#4a5060',times),
    T('Pure-AGN SEDs',1241,706,10,'#c8c8e0',mono,{textangle:-44,font:{size:10,color:'#c8c8e0',family:mono,weight:'bold'}}),
    T('Pure-AGN SEDs',1727,706,10,'#c8c8e0',mono,{textangle:-44,font:{size:10,color:'#c8c8e0',family:mono,weight:'bold'}})
  ]
};
Plotly.newPlot('chart', data, layout, {displayModeBar:false, staticPlot:true});
</script></body></html>
